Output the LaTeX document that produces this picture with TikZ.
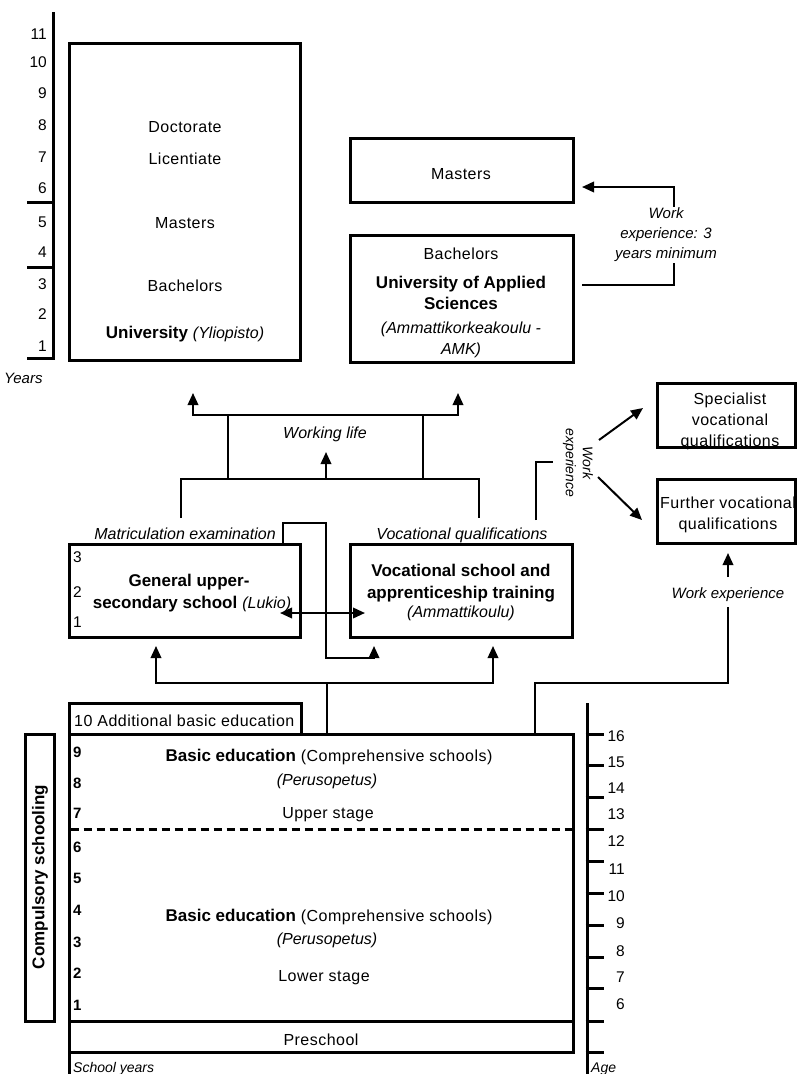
\documentclass[tikz,border=0pt]{standalone}
\usepackage{fontspec}
\setmainfont{Liberation Sans}
\newfontfamily\spaced{Liberation Sans}[LetterSpace=3]
\usetikzlibrary{arrows.meta}

% text sizes (1 unit = 1pt)
\newcommand\txtR{\spaced\fontsize{16}{19}\selectfont}
\newcommand\txtB{\rmfamily\fontsize{17}{20}\selectfont\bfseries}
\newcommand\txtI{\rmfamily\fontsize{16}{19}\selectfont\itshape}
\newcommand\txtIs{\rmfamily\fontsize{15}{20}\selectfont\itshape}
\newcommand\txtIx{\rmfamily\fontsize{14}{17}\selectfont\itshape}
\newcommand\txtN{\rmfamily\fontsize{15.5}{17}\selectfont}
\newcommand\txtNB{\rmfamily\fontsize{15}{17}\selectfont\bfseries}

\tikzset{
  box/.style={draw, line width=3pt, inner sep=0pt, outer sep=0pt},
  conn/.style={line width=2pt},
  arr/.style={conn, -{Triangle[length=12pt,width=10.5pt]}},
  darr/.style={conn, {Triangle[length=12pt,width=10.5pt]}-{Triangle[length=12pt,width=10.5pt]}},
  axisline/.style={line width=3pt},
  tx/.style={inner sep=0pt, anchor=base, yshift=-6pt, font=\txtR},
  txw/.style={tx, anchor=base west},
  numR/.style={inner sep=0pt, anchor=base east, yshift=-5.5pt, font=\txtN},
  numL/.style={inner sep=0pt, anchor=base west, yshift=-5.5pt, font=\txtN},
}

\begin{document}
\begin{tikzpicture}[x=1pt, y=-1pt, line cap=butt]
\useasboundingbox (0,0) rectangle (797,1074);

% ---------- years scale (higher education) ----------
\coordinate (yTop) at (53,12);
\coordinate (yBot) at (53,358);
\draw[axisline] (yTop) -- (yBot);
\foreach \y in {202,267,358} \draw[axisline] (27,\y) -- (54.5,\y);
\foreach \n/\y in {11/34,10/62,9/93,8/125,7/157,6/188,5/222,4/252,3/284,2/314,1/346}
  \node[numR] (yr\n) at (47,\y) {\n};
\node[txw, font=\txtIs] (yearsLbl) at (4,377) {Years};

% ---------- university ----------
\node[box, minimum width=231pt, minimum height=317pt] (uni) at (184.5,201.5) {};
\node[tx] (uniDoc) at (185,126) {Doctorate};
\node[tx] (uniLic) at (185,158) {Licentiate};
\node[tx] (uniMas) at (185,222) {Masters};
\node[tx] (uniBac) at (185,285) {Bachelors};
\node[tx] (uniName) at (185,332) {{\txtB University} {\txtI (Yliopisto)}};

% ---------- university of applied sciences ----------
\node[box, minimum width=223pt, minimum height=64pt] (amkMas) at (461.5,170) {};
\node[tx] (amkMasT) at (461,173) {Masters};
\node[box, minimum width=223pt, minimum height=127pt] (amk) at (461.5,298.5) {};
\node[tx] (amkBac) at (461,253) {Bachelors};
\node[tx, font=\txtB] (amkN1) at (461,282) {University of Applied};
\node[tx, font=\txtB] (amkN2) at (461,303) {Sciences};
\node[tx, font=\txtI] (amkN3) at (461,327) {(Ammattikorkeakoulu -};
\node[tx, font=\txtI] (amkN4) at (461,348) {AMK)};

% work experience route to the masters
\coordinate (wmFrom) at (582,285);
\coordinate (wmTo) at (582,187);
\draw[arr] (wmFrom) -- (674,285) -- (674,187) -- (wmTo);
\node[fill=white, inner sep=1pt, align=center, font=\txtIs] (wmLbl) at (666,235)
  {Work\\experience: 3\\years minimum};

% ---------- working life junction ----------
\coordinate (uniIn) at (193,393);
\coordinate (amkIn) at (458,393);
\coordinate (wlTop) at (326,415);
\draw[darr] (uniIn) |- (wlTop) -| (amkIn);
\draw[conn] (228,415) -- (228,479);
\draw[conn] (423,415) -- (423,479);
\coordinate (matUp) at (181,518);
\coordinate (vocUp) at (479,518);
\coordinate (wlMid) at (326,479);
\coordinate (wlIn) at (326,452);
\draw[conn] (matUp) |- (wlMid) -| (vocUp);
\draw[arr] (wlMid) -- (wlIn);
\node[tx, font=\txtI] (wlLbl) at (325,432) {Working life};

% ---------- upper secondary ----------
\node[tx, font=\txtI] (matLbl) at (185,533) {Matriculation examination};
\node[tx, font=\txtI] (vqLbl) at (462,533) {Vocational qualifications};

\node[box, minimum width=231pt, minimum height=93pt] (lukio) at (184.5,590.5) {};
\foreach \n/\y in {3/557,2/592,1/622} \node[numL] (lk\n) at (73,\y) {\n};
\node[tx, font=\txtB] (lkT1) at (189,580) {General upper-};
\node[tx] (lkT2) at (192,602) {{\txtB secondary school} {\txtI (Lukio)}};

\node[box, minimum width=222pt, minimum height=93pt] (voc) at (461,590.5) {};
\node[tx, font=\txtB] (vcT1) at (461,570) {Vocational school and};
\node[tx, font=\txtB] (vcT2) at (461,592) {apprenticeship training};
\node[tx, font=\txtI] (vcT3) at (461,611) {(Ammattikoulu)};

% transfer between the two tracks
\coordinate (xL) at (280,613);
\coordinate (xR) at (365,613);
\draw[darr] (xL) -- (xR);
\coordinate (lpS) at (283,544);
\coordinate (lpE) at (374,646);
\draw[arr] (lpS) |- (326,523) |- (374,658) -- (lpE);

% work experience towards further qualifications
\coordinate (wkB) at (536,520);
\coordinate (wkE) at (553,462);
\draw[conn] (wkB) |- (wkE);
\node[inner sep=0pt, rotate=-90, align=center, font=\txtIx] (wkLbl) at (578,463)
  {Work\\experience};
\coordinate (spFrom) at (599,440);
\coordinate (spTo) at (643,408);
\coordinate (fuFrom) at (598,477);
\coordinate (fuTo) at (642,520);
\draw[arr] (spFrom) -- (spTo);
\draw[arr] (fuFrom) -- (fuTo);

\node[box, minimum width=138pt, minimum height=64pt] (spec) at (726,415) {};
\node[tx] (spT1) at (730,398) {Specialist};
\node[tx] (spT2) at (730,419) {vocational};
\node[tx] (spT3) at (730,440) {qualifications};

\node[box, minimum width=138pt, minimum height=64pt] (fur) at (726,511) {};
\node[tx] (fuT1) at (728,502) {Further vocational};
\node[tx] (fuT2) at (728,523) {qualifications};

\node[tx, font=\txtIs] (weLbl) at (728,592) {Work experience};
\coordinate (weTop) at (728,577);
\coordinate (fuIn) at (728,553);
\draw[arr] (weTop) -- (fuIn);

% ---------- basic education ----------
\node[box, minimum width=232pt, minimum height=31pt] (addl) at (185,718.5) {};
\node[txw] (addlT) at (74,720) {10 Additional basic education};

\node[box, minimum width=504pt, minimum height=287pt] (basic) at (321,877.5) {};
\node[box, minimum width=504pt, minimum height=31pt] (pre) at (321,1036.5) {};
\node[tx] (preT) at (321,1039) {Preschool};
\coordinate (swTop) at (69,1052);
\coordinate (swBot) at (69,1074);
\draw[axisline] (swTop) -- (swBot);

\coordinate (dashL) at (70.5,829);
\coordinate (dashR) at (571.5,829);
\draw[line width=3pt, dash pattern=on 8pt off 5pt] (dashL) -- (dashR);

\foreach \n/\y in {9/752,8/783,7/813,6/847,5/878,4/910,3/942,2/973,1/1005}
  \node[numL, font=\txtNB] (sy\n) at (73,\y) {\n};

\node[tx] (upT1) at (329,755) {{\txtB Basic education} (Comprehensive schools)};
\node[tx, font=\txtI] (upT2) at (327,779) {(Perusopetus)};
\node[tx] (upT3) at (328,812) {Upper stage};
\node[tx] (loT1) at (329,915) {{\txtB Basic education} (Comprehensive schools)};
\node[tx, font=\txtI] (loT2) at (327,938) {(Perusopetus)};
\node[tx] (loT3) at (324,975) {Lower stage};

\node[box, minimum width=29pt, minimum height=287pt] (comp) at (39.5,877.5) {};
\node[inner sep=0pt, rotate=90, font=\txtB] (compT) at (40,877) {Compulsory schooling};

\node[txw, font=\txtIx] (syLbl) at (73,1066) {School years};

% routes out of basic education
\coordinate (lkIn) at (156,646);
\coordinate (vcIn) at (493,646);
\coordinate (tMid) at (327,683);
\coordinate (bMid) at (327,734);
\draw[darr] (lkIn) |- (tMid) -| (vcIn);
\draw[conn] (bMid) -- (tMid);
\coordinate (bRight) at (535,734);
\coordinate (weBot) at (728,607);
\draw[conn] (bRight) |- (728,683) -- (weBot);

% ---------- age scale ----------
\coordinate (aTop) at (587,703);
\coordinate (aBot) at (587,1074);
\draw[axisline] (aTop) -- (aBot);
\foreach \y in {734,765,797,829,861,893,925,957,988,1021,1052} \draw[axisline] (585.5,\y) -- (604,\y);
\foreach \n/\y in {16/736,15/762,14/788,13/814,12/841,11/869,10/896,9/923,8/951,7/977,6/1004}
  \node[numR] (age\n) at (625,\y) {\n};
\node[txw, font=\txtIx] (ageLbl) at (591,1066) {Age};
\end{tikzpicture}
\end{document}
